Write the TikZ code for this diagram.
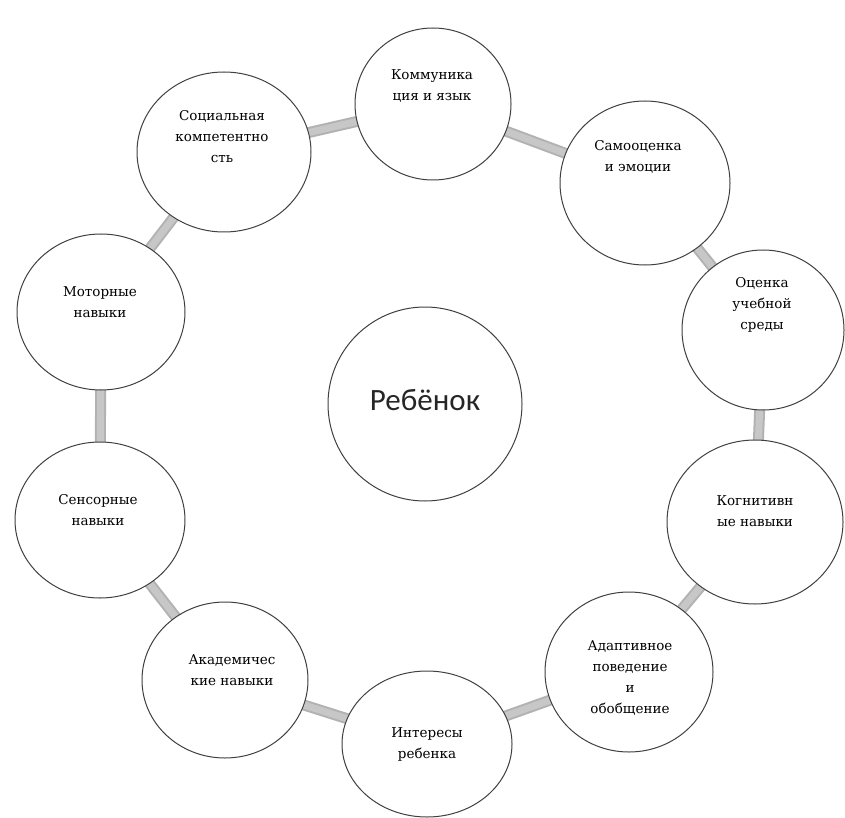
\documentclass[tikz,border=0pt]{standalone}
\usepackage{fontspec}
\setmainfont{DejaVu Serif}
\newfontfamily\centerfont{Carlito}
\usetikzlibrary{shapes.geometric,backgrounds}
\tikzset{
  bubble/.style={ellipse,draw=black!75,line width=1pt,fill=white,inner sep=0pt},
  bubbletext/.style={align=center,font=\fontsize{13.5}{21}\selectfont,text=black,inner sep=0pt},
  ringlink/.style={line width=11pt,draw=black!30},
  ringlinkhi/.style={line width=7pt,draw=black!22}
}
\begin{document}
\begin{tikzpicture}[x=1pt,y=-1pt]
\useasboundingbox (0,0) rectangle (845,818);
% circles
\node[bubble,minimum width=156pt,minimum height=152pt] (c1) at (433,104) {};
\node[bubble,minimum width=170pt,minimum height=164pt] (c2) at (645,183) {};
\node[bubble,minimum width=162pt,minimum height=160pt] (c3) at (763,330) {};
\node[bubble,minimum width=176pt,minimum height=164pt] (c4) at (755,522) {};
\node[bubble,minimum width=168pt,minimum height=160pt] (c5) at (629,672) {};
\node[bubble,minimum width=170pt,minimum height=146pt] (c6) at (427,744) {};
\node[bubble,minimum width=166pt,minimum height=156pt] (c7) at (225,680) {};
\node[bubble,minimum width=170pt,minimum height=156pt] (c8) at (100,520) {};
\node[bubble,minimum width=168pt,minimum height=156pt] (c9) at (101,312) {};
\node[bubble,minimum width=174pt,minimum height=160pt] (c10) at (224,152) {};
\node[bubble,minimum width=194pt,minimum height=194pt] (c0) at (425,404) {};
% texts
\node[bubbletext] (t1) at (432,86) {Коммуника\\ция и язык};
\node[bubbletext] (t2) at (638,157) {Самооценка\\и эмоции};
\node[bubbletext] (t3) at (762,305) {Оценка\\учебной\\среды};
\node[bubbletext] (t4) at (755,511) {Когнитивн\\ые навыки};
\node[bubbletext] (t5) at (630,678) {Адаптивное\\поведение\\и\\обобщение};
\node[bubbletext] (t6) at (427,744) {Интересы\\ребенка};
\node[bubbletext] (t7) at (232,670) {Академичес\\кие навыки};
\node[bubbletext] (t8) at (98,510) {Сенсорные\\навыки};
\node[bubbletext] (t9) at (100,302) {Моторные\\навыки};
\node[bubbletext] (t10) at (222,137) {Социальная\\компетентно\\сть};
\node[font=\centerfont\fontsize{31}{36}\selectfont,text=black!85] (t0) at (425,400) {Ребёнок};
% ring connectors
\begin{scope}[on background layer]
\foreach \a/\b in {c1/c2,c2/c3,c3/c4,c4/c5,c5/c6,c6/c7,c7/c8,c8/c9,c9/c10,c10/c1}{
  \draw[ringlink] (\a.center) -- (\b.center);
  \draw[ringlinkhi] (\a.center) -- (\b.center);
}
\end{scope}
\end{tikzpicture}
\end{document}
